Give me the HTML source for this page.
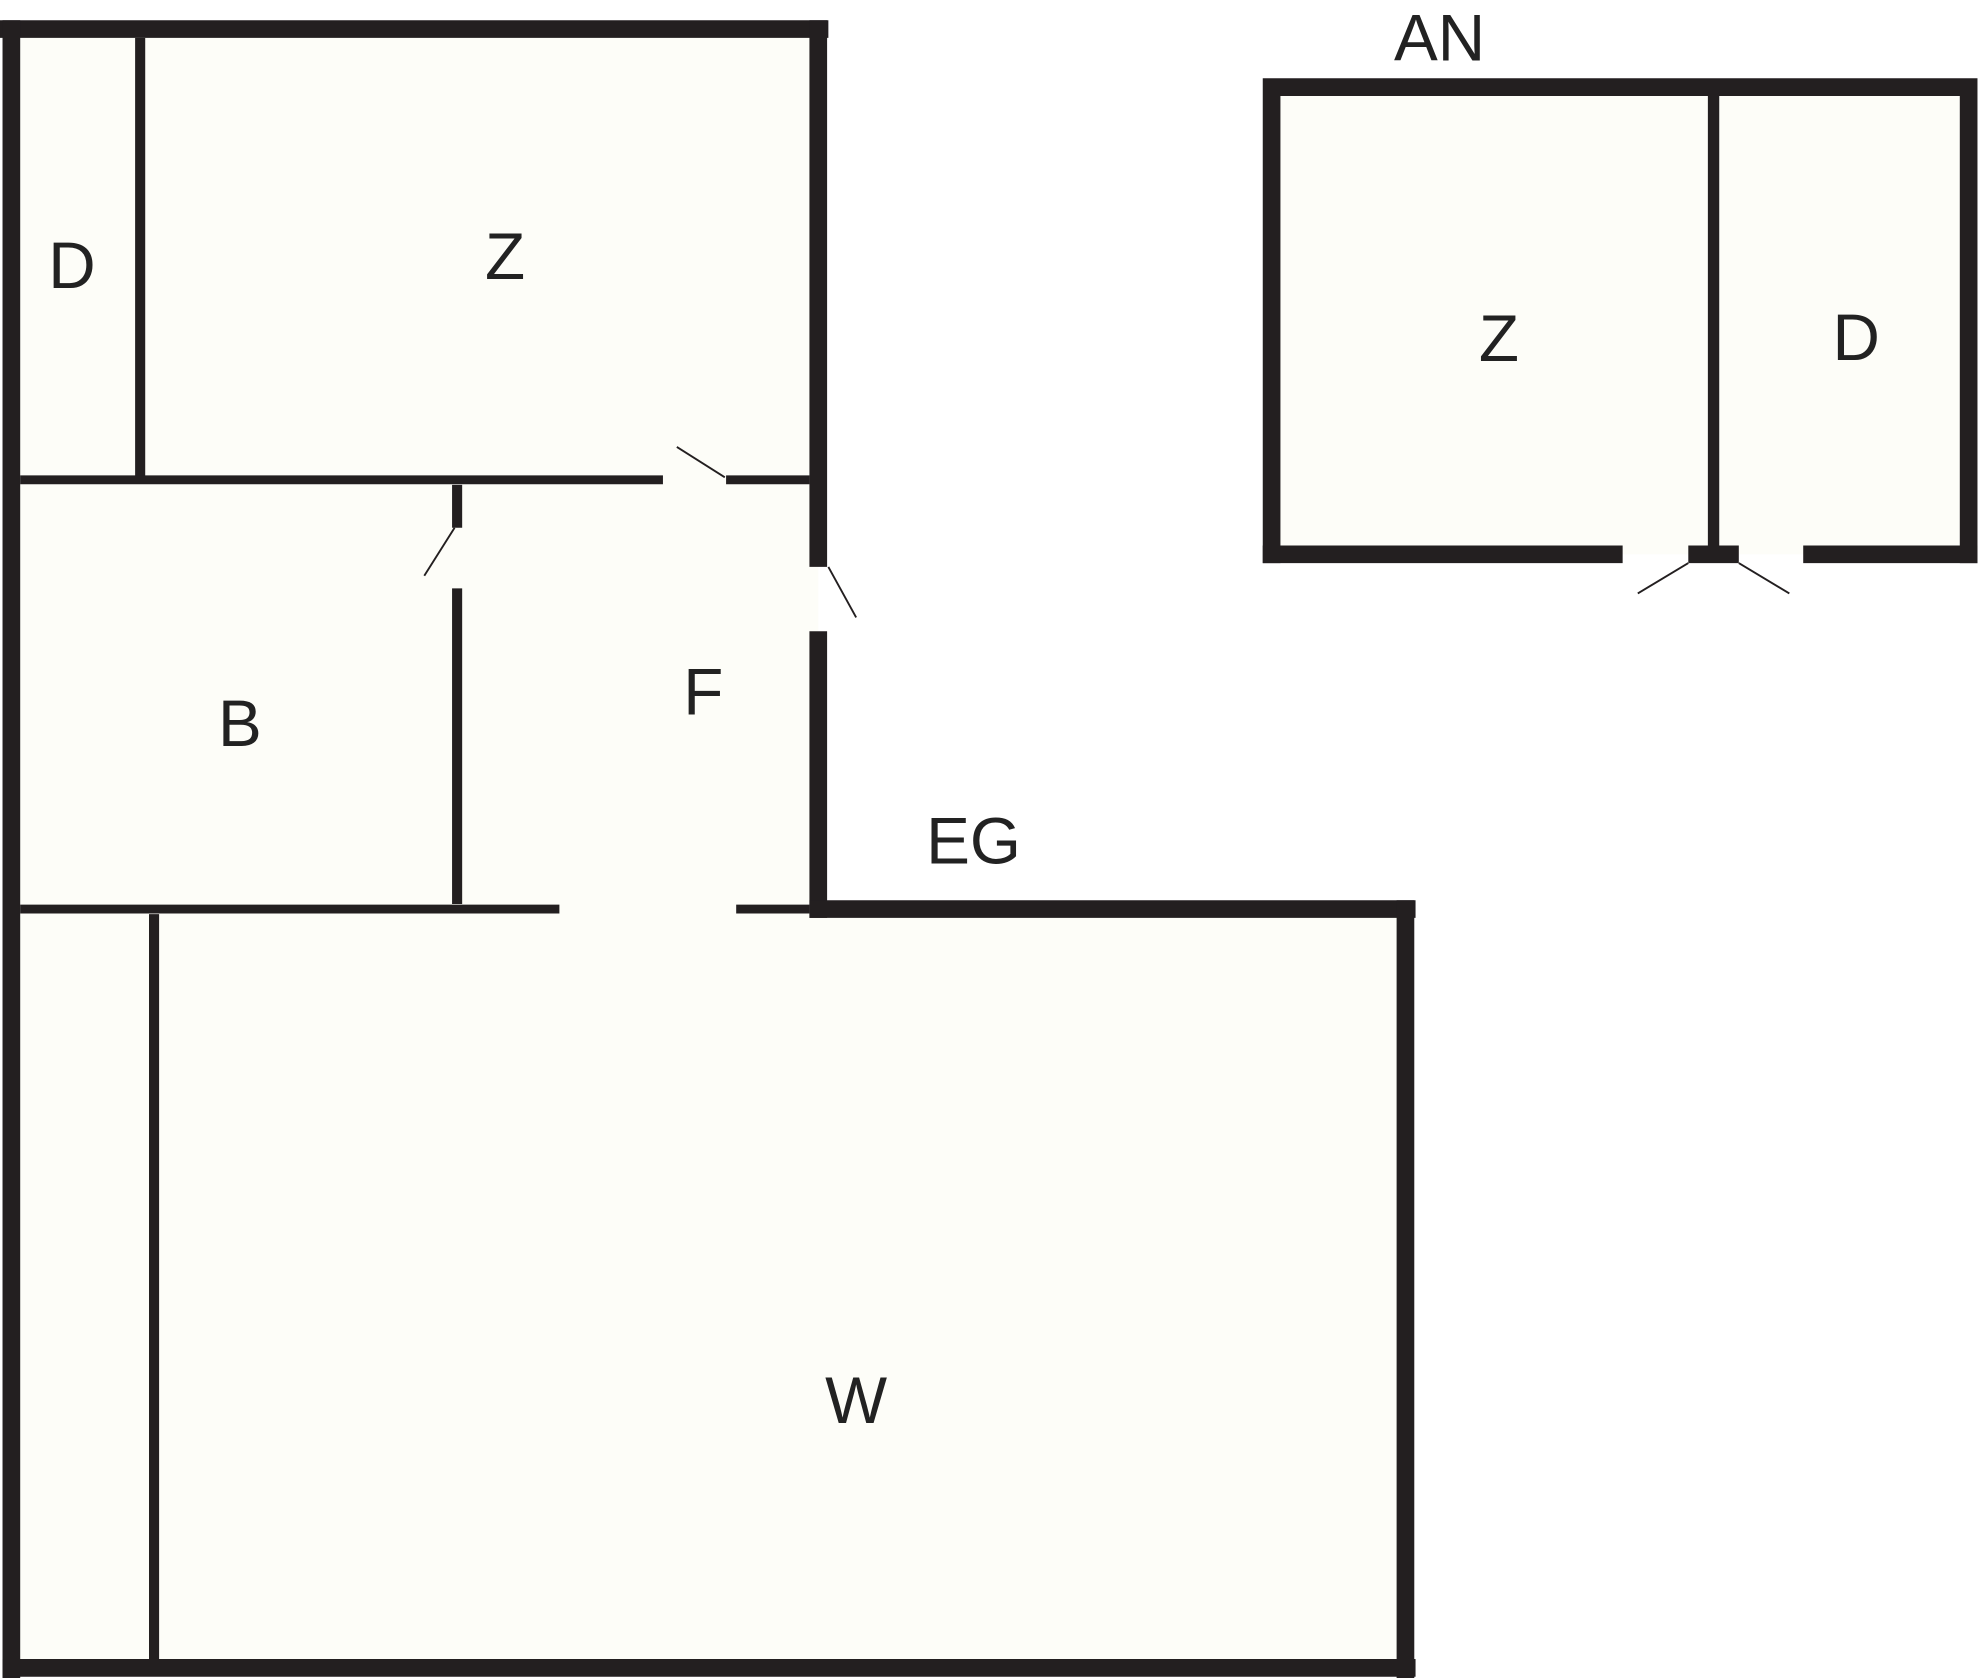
<!DOCTYPE html>
<html><head><meta charset="utf-8"><style>
html,body{margin:0;padding:0;background:#fff;}
svg{display:block;}
text{font-family:"Liberation Sans",sans-serif;font-size:52px;fill:#222;text-anchor:middle;}
</style></head><body>
<svg width="1980" height="1678" viewBox="0 0 1568 1329" preserveAspectRatio="none">
<rect width="1568" height="1329" fill="#fff"/>
<path d="M9 23 H648 V720 H1113 V1321 H9 Z" fill="#fdfdf8"/>
<g stroke="#231f20" fill="none" stroke-linecap="butt">
<path d="M0 23 H656" stroke-width="14"/>
<path d="M9 16 V1329" stroke-width="14"/>
<path d="M648 16 V449 M648 500 V727" stroke-width="14"/>
<path d="M641 720 H1121" stroke-width="14"/>
<path d="M1113 713 V1329" stroke-width="14"/>
<path d="M2 1321 H1121" stroke-width="14"/>
<path d="M111 30 V378" stroke-width="8"/>
<path d="M16 380 H525 M575 380 H641" stroke-width="7"/>
<path d="M362 384 V418 M362 466 V716" stroke-width="8"/>
<path d="M16 720 H443 M583 720 H641" stroke-width="7"/>
<path d="M122 724 V1314" stroke-width="8"/>
<path d="M536 354 L574 378 M336 456 L360 418 M656 449 L678 489" stroke-width="1.5"/>
</g>
<rect x="1007" y="69" width="552" height="370" fill="#fdfdf8"/>
<g stroke="#231f20" fill="none">
<path d="M1000 69 H1566 M1007 62 V446 M1559 62 V446" stroke-width="14"/>
<path d="M1000 439 H1285 M1337 439 H1377 M1428 439 H1566" stroke-width="14"/>
<path d="M1357 76 V432" stroke-width="9"/>
<path d="M1297 470 L1337 446 M1377 446 L1417 470" stroke-width="1.5"/>
</g>
<text x="57" y="228">D</text>
<text x="400" y="221">Z</text>
<text x="190" y="591">B</text>
<text x="557" y="566">F</text>
<text x="678" y="1127">W</text>
<text x="771" y="684">EG</text>
<text x="1140" y="48">AN</text>
<text x="1187" y="286">Z</text>
<text x="1470" y="285">D</text>
</svg>
</body></html>
